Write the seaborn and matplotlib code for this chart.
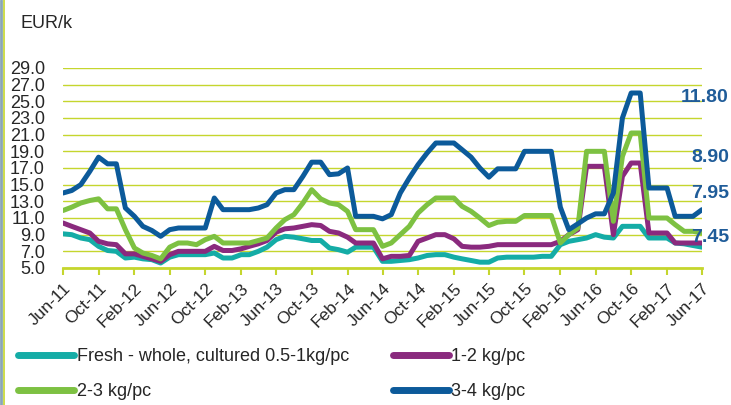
import matplotlib
matplotlib.use("Agg")
import matplotlib.pyplot as plt
import matplotlib.transforms as mtransforms
import numpy as np
import pandas as pd
import seaborn as sns

# monthly prices, Jun-11 .. Jun-17
months = pd.date_range("2011-06-01", "2017-06-01", freq="MS")

fresh_05_1 = [9.1, 9.0, 8.6, 8.4, 7.6, 7.1, 7.0, 6.2, 6.3, 6.1, 6.0, 5.6, 6.3,
              6.6, 6.6, 6.6, 6.6, 6.8, 6.2, 6.2, 6.6, 6.6, 7.0, 7.5, 8.4,
              8.8, 8.7, 8.5, 8.3, 8.3, 7.4, 7.2, 6.9, 7.5, 7.5, 7.5, 5.8,
              5.8, 5.9, 6.0, 6.2, 6.5, 6.6, 6.6, 6.3, 6.1, 5.9, 5.7, 5.7,
              6.2, 6.3, 6.3, 6.3, 6.3, 6.4, 6.4, 7.8, 8.2, 8.4, 8.6, 9.0,
              8.7, 8.6, 10.0, 10.0, 10.0, 8.6, 8.6, 8.6, 8.0, 7.9, 7.7, 7.5]
kg_1_2 = [10.4, 10.0, 9.6, 9.2, 8.2, 7.9, 7.8, 6.7, 6.7, 6.4, 6.1, 5.8, 6.6,
          7.0, 7.0, 7.0, 7.0, 7.6, 7.1, 7.1, 7.3, 7.6, 7.9, 8.3, 9.3,
          9.7, 9.8, 10.0, 10.2, 10.1, 9.4, 9.2, 8.7, 8.0, 8.0, 8.0, 6.1,
          6.4, 6.4, 6.5, 8.2, 8.6, 9.0, 9.0, 8.5, 7.6, 7.5, 7.5, 7.6,
          7.8, 7.8, 7.8, 7.8, 7.8, 7.8, 7.8, 8.2, 9.0, 9.6, 17.2, 17.2,
          17.2, 9.0, 16.0, 17.6, 17.6, 9.2, 9.2, 9.2, 8.0, 8.0, 8.0, 8.0]
kg_2_3 = [11.9, 12.3, 12.8, 13.1, 13.3, 12.1, 12.1, 9.6, 7.4, 6.8, 6.5, 6.1, 7.5,
          8.0, 8.0, 7.8, 8.4, 8.8, 8.0, 8.0, 8.0, 8.0, 8.3, 8.6, 9.8,
          10.8, 11.4, 12.8, 14.4, 13.3, 12.8, 12.6, 11.8, 9.6, 9.6, 9.6, 7.6,
          8.0, 9.0, 10.0, 11.6, 12.6, 13.4, 13.4, 13.4, 12.4, 11.8, 11.0, 10.1,
          10.5, 10.6, 10.6, 11.3, 11.3, 11.3, 11.3, 8.0, 9.0, 9.8, 19.0, 19.0,
          19.0, 10.6, 18.4, 21.2, 21.2, 11.0, 11.0, 11.0, 10.2, 9.4, 9.4, 9.2]
kg_3_4 = [14.0, 14.3, 15.0, 16.6, 18.3, 17.5, 17.5, 12.2, 11.2, 10.0, 9.5, 8.8, 9.6,
          9.8, 9.8, 9.8, 9.8, 13.4, 12.0, 12.0, 12.0, 12.0, 12.2, 12.6, 14.0,
          14.4, 14.4, 16.0, 17.7, 17.7, 16.2, 16.3, 17.0, 11.2, 11.2, 11.2, 10.9,
          11.4, 14.0, 15.8, 17.4, 18.8, 20.0, 20.0, 20.0, 19.2, 18.3, 17.0, 15.9,
          16.9, 16.9, 16.9, 19.0, 19.0, 19.0, 19.0, 12.3, 9.6, 10.3, 11.0, 11.5,
          11.5, 14.0, 23.0, 26.0, 26.0, 14.6, 14.6, 14.6, 11.2, 11.2, 11.2, 12.0]

series_names = ["Fresh - whole, cultured 0.5-1kg/pc", "1-2 kg/pc", "2-3 kg/pc", "3-4 kg/pc"]
series_colors = ["#14aca6", "#8a2a7e", "#7dc142", "#0c5a9a"]

side_labels = ["11.80", "8.90", "7.95", "7.45"]
side_label_y = [25.5, 18.3, 14.0, 8.6]

yticks = np.arange(5, 30, 2)

df = pd.concat([
    pd.DataFrame({"month": months, "price": vals, "series": name})
    for name, vals in zip(series_names, [fresh_05_1, kg_1_2, kg_2_3, kg_3_4])
])

sns.set_theme(style="white")
plt.rcParams["font.family"] = ["Liberation Sans", "DejaVu Sans"]

lime = "#c5d62e"

fig = plt.figure(figsize=(7.31, 4.05), dpi=100)
ax = fig.add_axes([63 / 731, 1 - 268 / 405, (702 - 63) / 731, 200 / 405])

sns.lineplot(data=df, x="month", y="price", hue="series", hue_order=series_names,
             palette=series_colors, linewidth=3.6, ax=ax, legend=True)

ax.set_ylim(5, 29)
ax.set_xlim(months[0], months[-1])
ax.set_yticks(yticks)
ax.set_yticklabels([f"{v:.1f}" for v in yticks], fontsize=13)
ax.yaxis.grid(True, color=lime, linewidth=1.0)
ax.set_axisbelow(True)
ax.set_xlabel("")
ax.set_ylabel("")

xt = months[::4]
ax.set_xticks(xt)
ax.set_xticklabels([d.strftime("%b-%y") for d in xt], rotation=45, ha="right",
                   rotation_mode="anchor", fontsize=12.5)
ax.tick_params(axis="x", bottom=True, length=5, width=1.5, color=lime, pad=4)
ax.tick_params(axis="y", left=False, length=0, pad=13)

for s in ["top", "right", "left"]:
    ax.spines[s].set_visible(False)
ax.spines["bottom"].set_color(lime)
ax.spines["bottom"].set_linewidth(2)

# legend: rows Fresh / 1-2, then 2-3 / 3-4
handles, labels = ax.get_legend_handles_labels()
ax.get_legend().remove()
order = [0, 2, 1, 3]
for h in handles:
    h.set_linewidth(5)
fig.legend([handles[i] for i in order], [labels[i] for i in order], ncol=2,
           loc="upper left", bbox_to_anchor=(0.025, 0.14), frameon=False,
           fontsize=13, handlelength=3.1, handletextpad=0.15, columnspacing=2.4,
           labelspacing=1.0, borderpad=0, borderaxespad=0)

trans = mtransforms.blended_transform_factory(fig.transFigure, ax.transData)
for txt, yv in zip(side_labels, side_label_y):
    ax.text(0.997, yv, txt, transform=trans, ha="right", va="center",
            fontsize=14, fontweight="bold", color="#1f5c99", clip_on=False)

fig.text(20 / 731, 1 - 24 / 405, "EUR/k", fontsize=13, va="center", ha="left")

# left border stripes
fig.add_artist(plt.Line2D([0.002, 0.002], [0, 1], transform=fig.transFigure, color="#8aa6b8", linewidth=2))
fig.add_artist(plt.Line2D([0.006, 0.006], [0, 1], transform=fig.transFigure, color=lime, linewidth=1.2))

fig.savefig("out.png", dpi=100)
